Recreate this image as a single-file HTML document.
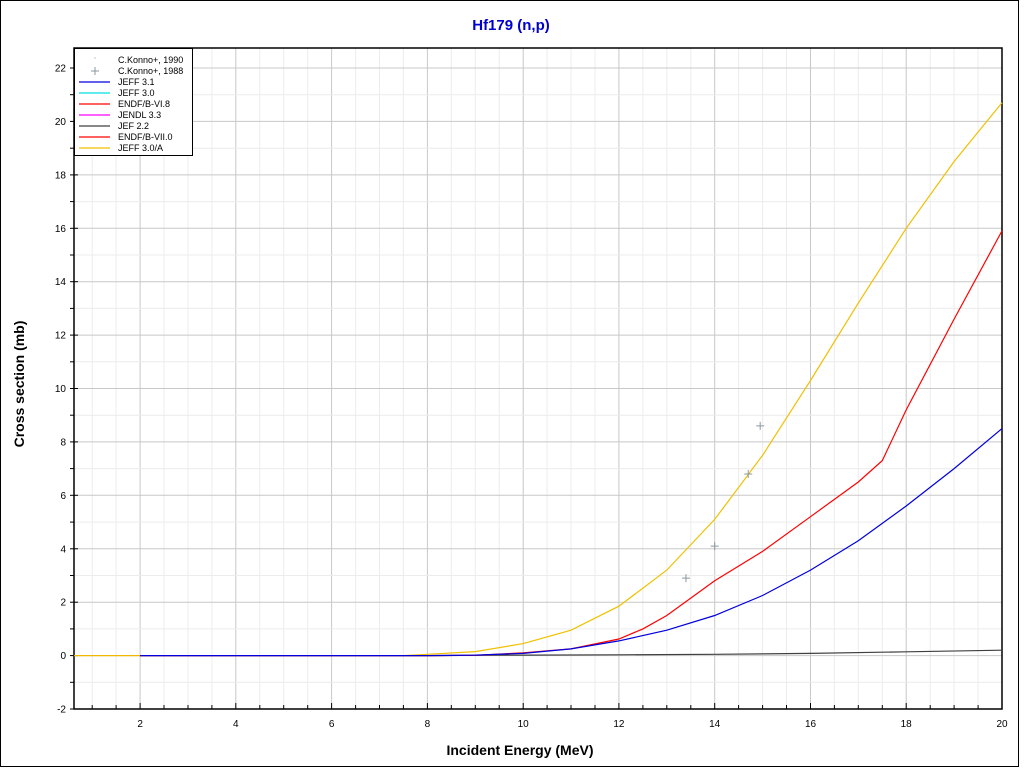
<!DOCTYPE html>
<html><head><meta charset="utf-8"><style>
html,body{margin:0;padding:0;background:#fff;}
svg{display:block;font-family:"Liberation Sans",sans-serif;}
</style></head><body>
<svg id="s" width="1024" height="768" xmlns="http://www.w3.org/2000/svg">
<rect x="0.5" y="0.5" width="1018" height="766" fill="#fff" stroke="#000"/>
<text x="511" y="30" text-anchor="middle" font-size="15" font-weight="bold" fill="#0000cc">Hf179 (n,p)</text>
<text x="520" y="755" text-anchor="middle" font-size="14" font-weight="bold">Incident Energy (MeV)</text>
<text transform="translate(24,384) rotate(-90)" text-anchor="middle" font-size="14" font-weight="bold">Cross section (mb)</text>
<g id="g"></g>
</svg>
<script>
const L=74,R=1002,T=48,B=709;
const X0=0.62,X1=20,Y0=-2.0,Y1=22.75;
const sx=x=>L+(x-X0)/(X1-X0)*(R-L), sy=y=>B-(y-Y0)/(Y1-Y0)*(B-T);
let h='';
for(let x=1;x<=20;x+=0.5){const p=sx(x).toFixed(1);const maj=x%2==0;h+=`<line x1="${p}" y1="${T}" x2="${p}" y2="${B}" stroke="${maj?'#c8c8c8':'#ececec'}"/>`;}
for(let y=-2;y<=22;y+=1){const p=sy(y).toFixed(1);const maj=y%2==0;h+=`<line x1="${L}" y1="${p}" x2="${R}" y2="${p}" stroke="${maj?'#c8c8c8':'#ececec'}"/>`;}
h+=`<rect x="${L}" y="${T}" width="${R-L}" height="${B-T}" fill="none" stroke="#000" stroke-width="1.5"/>`;
for(let x=1;x<=20;x+=0.5){const p=sx(x).toFixed(1);const maj=x%2==0;h+=`<line x1="${p}" y1="${B}" x2="${p}" y2="${B-(maj?6:4)}" stroke="#000"/>`;if(maj)h+=`<text x="${p}" y="${B+18}" text-anchor="middle" font-size="10">${x}</text>`;}
for(let y=-2;y<=22;y+=1){const p=sy(y).toFixed(1);const maj=y%2==0;h+=`<line x1="${L-4}" y1="${p}" x2="${L+(maj?4:0)}" y2="${p}" stroke="#000"/>`;if(maj)h+=`<text x="${L-8}" y="${(+p+3.5)}" text-anchor="end" font-size="10">${y}</text>`;}
function line(pts,c,w){return `<polyline fill="none" stroke="${c}" stroke-width="${w||1.2}" points="${pts.map(p=>sx(p[0]).toFixed(1)+','+sy(p[1]).toFixed(1)).join(' ')}"/>`;}
h+=line([[0.62,0],[2,0]],'#f0b800');
h+=line([[7.5,0],[8,0.05],[9,0.15],[10,0.45],[11,0.95],[12,1.85],[13,3.2],[14,5.1],[15,7.5],[16,10.3],[17,13.2],[18,16.0],[19,18.5],[20,20.7]],'#f0c000');
h+=line([[2,0],[8,0],[9,0.01],[10,0.02],[12,0.03],[14,0.05],[16,0.08],[18,0.14],[20,0.2]],'#404040');
h+=line([[2,0],[8,0],[9,0.01],[10,0.1],[11,0.25],[12,0.62],[12.5,1.0],[13,1.5],[14,2.8],[15,3.9],[16,5.2],[17,6.5],[17.5,7.3],[18,9.2],[19,12.6],[20,15.9]],'#ff0000');
h+=line([[2,0],[8,0],[9,0.02],[10,0.08],[11,0.25],[12,0.55],[13,0.95],[14,1.5],[15,2.25],[16,3.2],[17,4.3],[18,5.6],[19,7.0],[20,8.5]],'#0000dd');
[[13.4,2.9],[14,4.1],[14.7,6.8],[14.95,8.6]].forEach(p=>{const a=sx(p[0]),b=sy(p[1]);h+=`<path d="M${a-4} ${b}h8M${a} ${b-4}v8" stroke="#8a9aa0"/>`;});
h+=`<rect x="74.5" y="48.5" width="118" height="107" fill="#fff" stroke="#000"/>`;
const items=[['C.Konno+, 1990',null],['C.Konno+, 1988','+'],['JEFF 3.1','#0000dd'],['JEFF 3.0','#00e0e0'],['ENDF/B-VI.8','#ff0000'],['JENDL 3.3','#ff00ff'],['JEF 2.2','#404040'],['ENDF/B-VII.0','#ff0000'],['JEFF 3.0/A','#f0c000']];
items.forEach((it,i)=>{const y=59+i*11;
 if(it[1]==null)h+=`<circle cx="95" cy="${y-1}" r="0.6" fill="#8a9aa0"/>`;
 else if(it[1]=='+')h+=`<path d="M91 ${y+1}h8M95 ${y-3}v8" stroke="#8a9aa0"/>`;
 else h+=`<line x1="79" y1="${y+1}" x2="110" y2="${y+1}" stroke="${it[1]}" stroke-width="1.3"/>`;
 h+=`<text x="118" y="${y+4}" font-size="9">${it[0]}</text>`;});
document.getElementById('g').innerHTML=h;
</script>
</body></html>
